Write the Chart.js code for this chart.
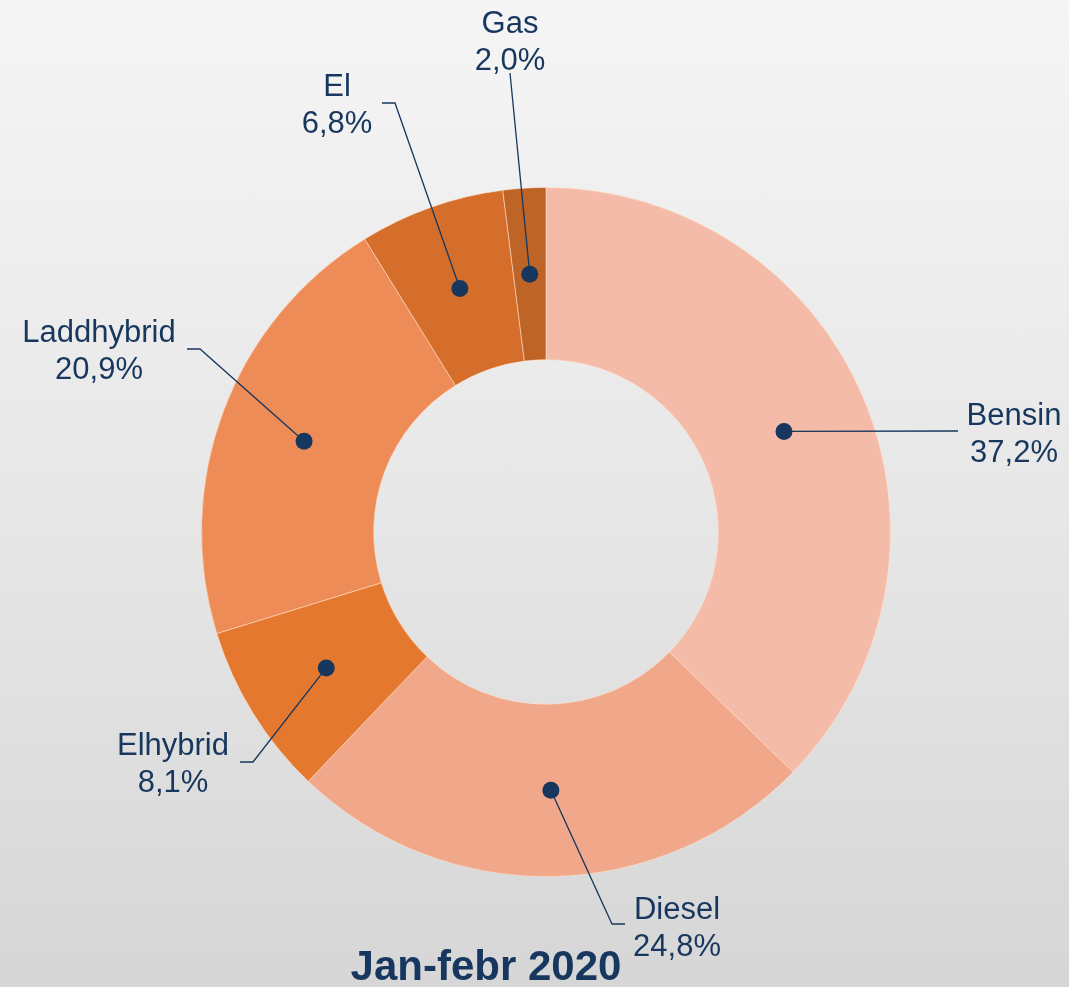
<!DOCTYPE html>
<html>
<head>
<meta charset="utf-8">
<title>Jan-febr 2020</title>
<script src="https://cdn.jsdelivr.net/npm/chart.js@4.4.1/dist/chart.umd.min.js"></script>
<style>
  html, body { margin: 0; padding: 0; }
  body {
    width: 1069px;
    height: 987px;
    overflow: hidden;
    background: linear-gradient(to bottom, #f5f5f5 0%, #e6e6e6 55%, #d6d6d6 100%);
  }
  #wrap { position: relative; width: 1069px; height: 987px; }
</style>
</head>
<body>
<div id="wrap"><canvas id="fuelChart"></canvas></div>
<script>
// Andel nyregistrerade bilar per drivmedel
const categories = ["Bensin", "Diesel", "Elhybrid", "Laddhybrid", "El", "Gas"];
const shares = [37.2, 24.8, 8.1, 20.9, 6.8, 2.0];
const chartTitle = "Jan-febr 2020";

const sliceColors = ["#f4bca8", "#f1a78a", "#e5782f", "#ee8c58", "#d56e2a", "#bf6427"];
const navy = "#17375e";

// label placement relative to chart center (text = center x / first baseline, path = leader points after the dot)
const labelLayout = [
  { text: [468, -107], path: [[412, -101]] },
  { text: [131, 387],  path: [[66, 392], [79, 392]] },
  { text: [-373, 223], path: [[-293, 230], [-306, 230]] },
  { text: [-447, -190], path: [[-346, -183], [-359, -183]] },
  { text: [-209, -436], path: [[-151, -429], [-164, -429]] },
  { text: [-36, -499], path: [[-36, -459]] }
];

function fmt(v) {
  return v.toFixed(1).replace(".", ",") + "%";
}

const leaderLabels = {
  id: "leaderLabels",
  afterDatasetsDraw(chart) {
    const ctx = chart.ctx;
    const arcs = chart.getDatasetMeta(0).data;
    ctx.save();
    arcs.forEach((arc, i) => {
      const p = arc.getProps(["x", "y", "startAngle", "endAngle", "innerRadius", "outerRadius"], true);
      const mid = (p.startAngle + p.endAngle) / 2;
      const r = (p.innerRadius + p.outerRadius) / 2;
      const dx = p.x + Math.cos(mid) * r;
      const dy = p.y + Math.sin(mid) * r;
      const lay = labelLayout[i];

      // leader line
      ctx.strokeStyle = navy;
      ctx.lineWidth = 1.3;
      ctx.beginPath();
      ctx.moveTo(dx, dy);
      lay.path.forEach(pt => ctx.lineTo(p.x + pt[0], p.y + pt[1]));
      ctx.stroke();

      // dot
      ctx.fillStyle = navy;
      ctx.beginPath();
      ctx.arc(dx, dy, 8.5, 0, Math.PI * 2);
      ctx.fill();

      // text
      ctx.font = "31px 'Liberation Sans', Arial, sans-serif";
      ctx.textAlign = "center";
      ctx.textBaseline = "alphabetic";
      const tx = p.x + lay.text[0];
      const ty = p.y + lay.text[1];
      ctx.fillText(categories[i], tx, ty);
      ctx.fillText(fmt(shares[i]), tx, ty + 37);
    });

    // title under the ring
    ctx.font = "bold 42px 'Liberation Sans', Arial, sans-serif";
    ctx.textAlign = "center";
    ctx.fillStyle = navy;
    ctx.fillText(chartTitle, 486, 980);
    ctx.restore();
  }
};

const chart = new Chart(document.getElementById("fuelChart").getContext("2d"), {
  type: "doughnut",
  data: {
    labels: categories,
    datasets: [{
      data: shares,
      backgroundColor: sliceColors,
      borderColor: "rgba(255, 225, 205, 0.55)",
      borderWidth: 1,
      hoverOffset: 0
    }]
  },
  options: {
    responsive: true,
    maintainAspectRatio: false,
    animation: false,
    cutout: "50%",
    rotation: 0,
    layout: { padding: { left: 201, right: 178, top: 187, bottom: 110 } },
    plugins: {
      legend: { display: false },
      tooltip: { enabled: false },
      title: { display: false }
    }
  },
  plugins: [leaderLabels]
});
</script>
</body>
</html>
